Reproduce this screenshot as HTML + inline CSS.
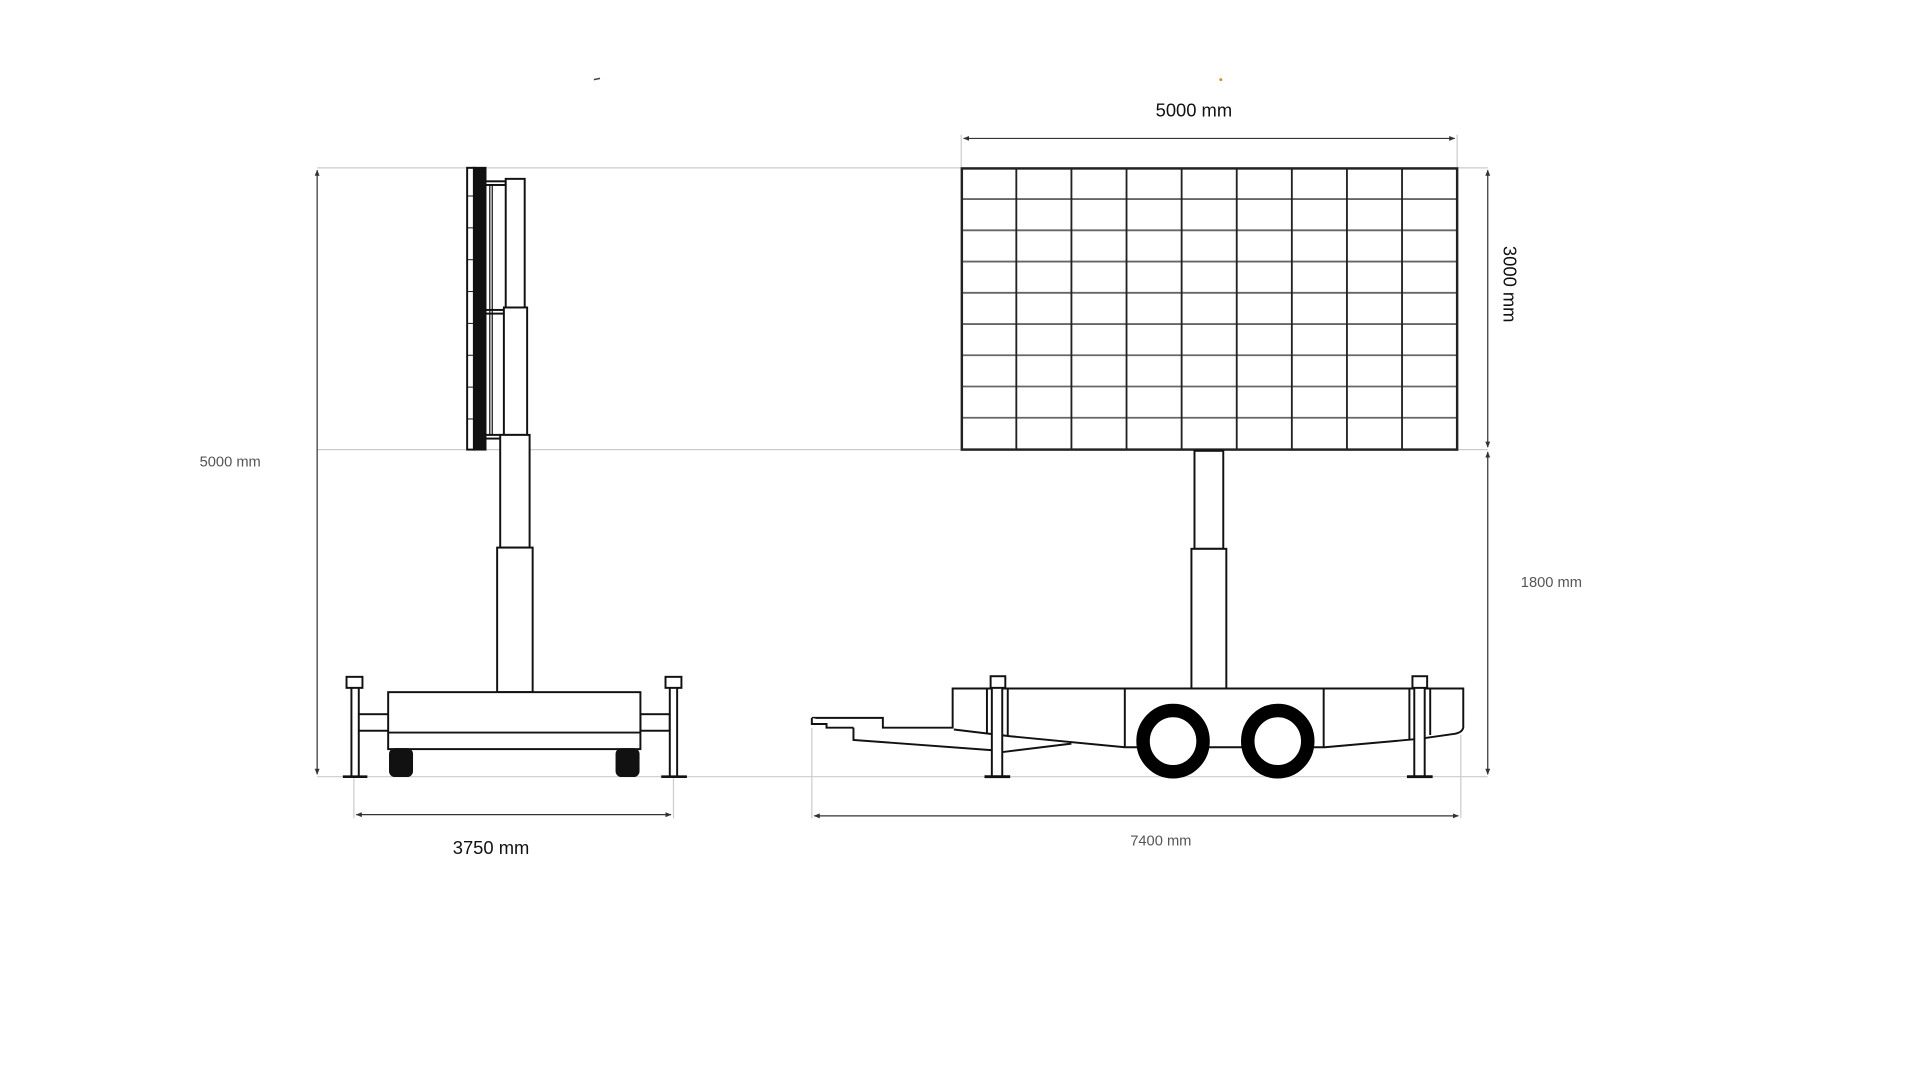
<!DOCTYPE html>
<html><head><meta charset="utf-8"><style>
html,body{margin:0;padding:0;background:#fff;}
svg{display:block;}
</style></head><body>
<svg width="1920" height="1080" viewBox="0 0 1568 881.6" preserveAspectRatio="none" xmlns="http://www.w3.org/2000/svg" font-family="Liberation Sans, sans-serif">
<defs>
<marker id="a" viewBox="0 0 10 10" refX="9" refY="5" markerWidth="5" markerHeight="5" orient="auto-start-reverse"><path d="M0,1 L10,5 L0,9 z" fill="#333"/></marker>
</defs>
<rect width="1568" height="882" fill="#fff"/>
<line x1="485" y1="65" x2="490" y2="64" stroke="#444" stroke-width="1.2"/>
<circle cx="997" cy="65" r="1.2" fill="#e08a2a"/>
<g stroke="#ccc" stroke-width="1">
<line x1="259" y1="137" x2="1215" y2="137"/>
<line x1="259" y1="367" x2="1215" y2="367"/>
<line x1="259" y1="634" x2="1215" y2="634"/>
<line x1="289" y1="634" x2="289" y2="668"/>
<line x1="550" y1="634" x2="550" y2="668"/>
<line x1="663" y1="594" x2="663" y2="668"/>
<line x1="1193" y1="600" x2="1193" y2="668"/>
<line x1="785" y1="110" x2="785" y2="137"/>
<line x1="1190" y1="110" x2="1190" y2="137"/>
</g>
<g stroke="#333" stroke-width="1" fill="none">
<line x1="259" y1="139" x2="259" y2="632" marker-start="url(#a)" marker-end="url(#a)"/>
<line x1="291" y1="665" x2="548" y2="665" marker-start="url(#a)" marker-end="url(#a)"/>
<line x1="665" y1="666" x2="1191" y2="666" marker-start="url(#a)" marker-end="url(#a)"/>
<line x1="787" y1="113" x2="1188" y2="113" marker-start="url(#a)" marker-end="url(#a)"/>
<line x1="1215" y1="139" x2="1215" y2="365" marker-start="url(#a)" marker-end="url(#a)"/>
<line x1="1215" y1="369" x2="1215" y2="632" marker-start="url(#a)" marker-end="url(#a)"/>
</g>
<text x="188" y="381" font-size="12" fill="#555" text-anchor="middle">5000 mm</text>
<text x="401" y="697" font-size="15" fill="#111" text-anchor="middle">3750 mm</text>
<text x="948" y="690" font-size="12" fill="#555" text-anchor="middle">7400 mm</text>
<text x="975" y="95" font-size="15" fill="#111" text-anchor="middle">5000 mm</text>
<text x="1267" y="479" font-size="12" fill="#555" text-anchor="middle">1800 mm</text>
<text transform="translate(1228,232) rotate(90)" font-size="15" fill="#111" text-anchor="middle">3000 mm</text>

<g stroke="#111" stroke-width="1.6" fill="#fff">
<rect x="396" y="148" width="17" height="3"/>
<rect x="396" y="253" width="16" height="3"/>
<rect x="396" y="355" width="14" height="3"/>
<line x1="400" y1="151" x2="400" y2="355" stroke-width="1"/>
<line x1="402" y1="151" x2="402" y2="355" stroke-width="1"/>
<rect x="381.5" y="137" width="6" height="230"/>
<rect x="387" y="137" width="9.5" height="230" fill="#111"/>
<rect x="413" y="146" width="15.5" height="105"/>
<rect x="411.5" y="251" width="19" height="104"/>
<rect x="408.5" y="355" width="24" height="92"/>
<rect x="406" y="447" width="29" height="118"/>
<rect x="291.5" y="583" width="26" height="13.5"/>
<rect x="523" y="583" width="24" height="13.5"/>
<rect x="317" y="565" width="206" height="46.5"/>
<line x1="317" y1="598" x2="523" y2="598"/>
<rect x="318.5" y="611.5" width="18" height="22" rx="4" fill="#111"/>
<rect x="503.5" y="611.5" width="18" height="22" rx="4" fill="#111"/>
<rect x="287" y="561" width="6" height="73"/>
<rect x="283" y="552.5" width="13" height="9"/>
<line x1="280" y1="634" x2="300" y2="634" stroke-width="2.2"/>
<rect x="547" y="561" width="6" height="73"/>
<rect x="543.5" y="552.5" width="13" height="9"/>
<line x1="540" y1="634" x2="561" y2="634" stroke-width="2.2"/>
</g>
<g stroke="#111" stroke-width="0.8">
<line x1="381.5" y1="160" x2="387" y2="160"/><line x1="381.5" y1="186" x2="387" y2="186"/>
<line x1="381.5" y1="212" x2="387" y2="212"/><line x1="381.5" y1="238" x2="387" y2="238"/>
<line x1="381.5" y1="264" x2="387" y2="264"/><line x1="381.5" y1="290" x2="387" y2="290"/>
<line x1="381.5" y1="316" x2="387" y2="316"/><line x1="381.5" y1="342" x2="387" y2="342"/>
</g>

<g stroke="#666" stroke-width="1.5">
<line x1="785" y1="162.5" x2="1190" y2="162.5"/><line x1="785" y1="188" x2="1190" y2="188"/>
<line x1="785" y1="213.5" x2="1190" y2="213.5"/><line x1="785" y1="239" x2="1190" y2="239"/>
<line x1="785" y1="264.5" x2="1190" y2="264.5"/><line x1="785" y1="290" x2="1190" y2="290"/>
<line x1="785" y1="315.5" x2="1190" y2="315.5"/><line x1="785" y1="341" x2="1190" y2="341"/>
</g>
<g stroke="#222" stroke-width="1.5">
<line x1="830" y1="137" x2="830" y2="367"/><line x1="875" y1="137" x2="875" y2="367"/>
<line x1="920" y1="137" x2="920" y2="367"/><line x1="965" y1="137" x2="965" y2="367"/>
<line x1="1010" y1="137" x2="1010" y2="367"/><line x1="1055" y1="137" x2="1055" y2="367"/>
<line x1="1100" y1="137" x2="1100" y2="367"/><line x1="1145" y1="137" x2="1145" y2="367"/>
</g>
<rect x="785.5" y="137.5" width="404.5" height="229.5" fill="none" stroke="#222" stroke-width="2"/>

<g stroke="#111" stroke-width="1.6" fill="#fff">
<rect x="975.5" y="368" width="23.5" height="80"/>
<rect x="973" y="448" width="28.5" height="114"/>
<path d="M663,586 L721,586 L721,594 L778,594 L778,562 L1195,562 L1195,594 Q1194,598 1188,599 L1160,603 L1082,610 L918.6,610 L825,601 L779,595.5"/>
<path d="M697,594 L697,604 L812,612.5 L818,614 L875,607"/>
<path d="M663,586 L663,591 L675,591 L675,594 L697,594"/>
<line x1="918.6" y1="562" x2="918.6" y2="610"/>
<line x1="1081" y1="562" x2="1081" y2="610"/>
<line x1="806" y1="562" x2="806" y2="598"/>
<line x1="823" y1="562" x2="823" y2="600"/>
<line x1="1151" y1="562" x2="1151" y2="604"/>
<line x1="1168" y1="562" x2="1168" y2="600"/>
<rect x="810" y="561" width="8.5" height="73"/>
<rect x="809" y="552" width="12" height="9.5"/>
<line x1="804" y1="634" x2="825" y2="634" stroke-width="2.4"/>
<rect x="1155" y="561" width="8.5" height="73"/>
<rect x="1153.5" y="552" width="12" height="9.5"/>
<line x1="1149" y1="634" x2="1170" y2="634" stroke-width="2.4"/>
</g>
<g fill="#fff" stroke="#000" stroke-width="11">
<ellipse cx="958" cy="605" rx="24.5" ry="25"/>
<ellipse cx="1043.5" cy="605" rx="24.5" ry="25"/>
</g>
</svg>
</body></html>
